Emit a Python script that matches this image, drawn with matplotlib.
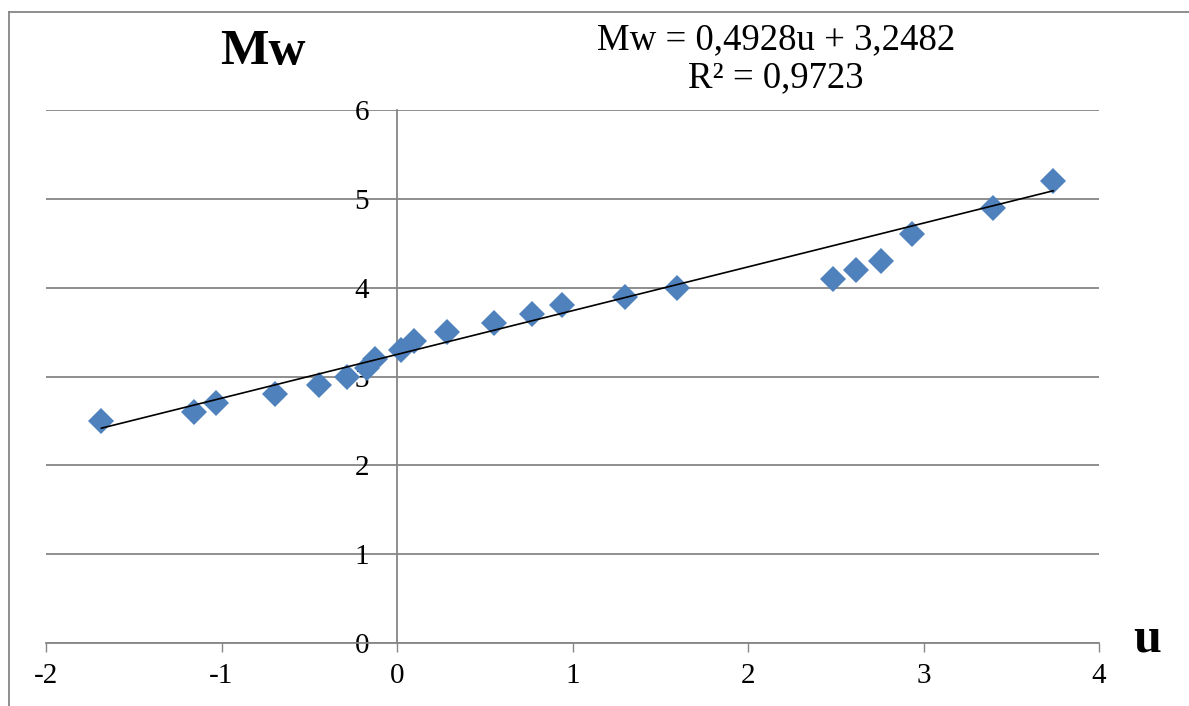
import matplotlib
matplotlib.use("Agg")
import matplotlib.pyplot as plt
from matplotlib.lines import Line2D

# Quantile values u and corresponding magnitudes Mw
u_values = [-1.684, -1.155, -1.032, -0.695, -0.446, -0.285, -0.17, -0.125,
            0.023, 0.097, 0.285, 0.553, 0.769, 0.940, 1.299, 1.595,
            2.482, 2.615, 2.760, 2.935, 3.395, 3.739]
mw_values = [2.5, 2.6, 2.7, 2.8, 2.9, 3.0, 3.1, 3.2, 3.3, 3.4, 3.5,
             3.6, 3.7, 3.8, 3.9, 4.0, 4.1, 4.2, 4.3, 4.6, 4.9, 5.2]

# Linear trend stated in the equation label
slope = 0.4928
intercept = 3.2482
r_squared = 0.9723

x_ticks = [-2, -1, 0, 1, 2, 3, 4]
y_ticks = [0, 1, 2, 3, 4, 5, 6]

grid_color = "#868686"
marker_color = "#4F81BD"
serif = ["Liberation Serif", "DejaVu Serif"]

plt.rcParams["font.family"] = serif

fig = plt.figure(figsize=(11.89, 7.06), dpi=100)
W, H = 1189, 706
ax = fig.add_axes([46 / W, 1 - 643 / H, (1099 - 46) / W, (643 - 110) / H])

ax.set_xlim(-2, 4)
ax.set_ylim(0, 6)
ax.set_xticks(x_ticks)
ax.set_yticks(y_ticks)
ax.set_xticklabels([str(t) for t in x_ticks])
ax.set_yticklabels([str(t) for t in y_ticks])

ax.yaxis.grid(True, color=grid_color, linewidth=1.3)
ax.set_axisbelow(True)

for side in ("top", "right"):
    ax.spines[side].set_visible(False)
ax.spines["bottom"].set_color(grid_color)
ax.spines["bottom"].set_linewidth(1.3)
ax.spines["left"].set_position(("data", 0))
ax.spines["left"].set_color(grid_color)
ax.spines["left"].set_linewidth(1.3)

ax.tick_params(axis="x", direction="out", length=6.5, width=1.0, color=grid_color,
               labelsize=21, pad=8)
ax.tick_params(axis="y", length=0, labelsize=21, pad=20)

# Scatter points
ax.plot(u_values, mw_values, linestyle="none", marker="D", markersize=13.5,
        color=marker_color, markeredgewidth=0, zorder=3)

# Trend line over the data range
x0, x1 = min(u_values), max(u_values)
ax.plot([x0, x1], [intercept + slope * x0, intercept + slope * x1],
        color="black", linewidth=1.2, zorder=4)

# Axis titles
fig.text(263 / W, 1 - 52 / H, "Mw", fontsize=37, fontweight="bold",
         ha="center", va="center")
fig.text(1147 / W, 1 - 640 / H, "u", fontsize=36, fontweight="bold",
         ha="center", va="center")

# Equation label
eq = f"Mw = {slope:.4f}u + {intercept:.4f}".replace(".", ",")
r2 = f"R² = {r_squared:.4f}".replace(".", ",")
fig.text(776 / W, 1 - 40 / H, eq, fontsize=26.5, ha="center", va="center")
fig.text(776 / W, 1 - 78 / H, r2, fontsize=26.5, ha="center", va="center")

# Outer chart frame (left and top edges)
fig.add_artist(Line2D([9 / W, 9 / W], [0, 1 - 12 / H], transform=fig.transFigure,
                      color=grid_color, linewidth=1.3))
fig.add_artist(Line2D([9 / W, 1], [1 - 12 / H, 1 - 12 / H], transform=fig.transFigure,
                      color=grid_color, linewidth=1.3))

fig.savefig("out.png", dpi=100)
